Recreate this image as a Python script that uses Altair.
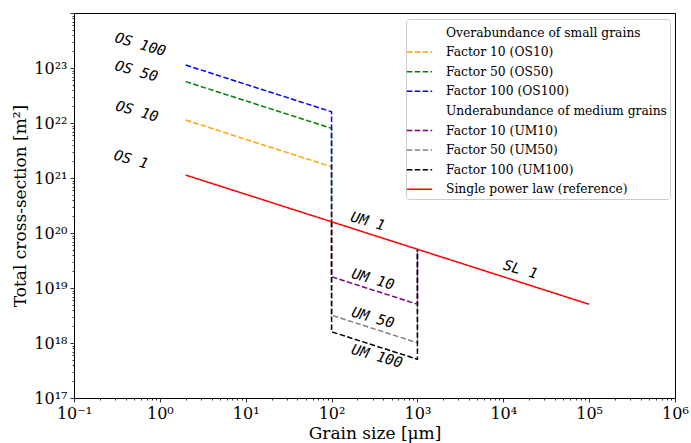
import altair as alt
import pandas as pd

# Single power law (reference) at its break points: grain size [um] -> cross-section [m^2]
ref_size = [2, 100, 1000, 100000]
ref_sigma = [1.13e21, 1.6e20, 5.06e19, 5.06e18]

# Overabundance of small grains (2-100 um), then drop back to the reference
os_size = [2, 100, 100]
os10 = [1.13e22, 1.6e21, 1.6e20]
os50 = [5.65e22, 8.0e21, 1.6e20]
os100 = [1.13e23, 1.6e22, 1.6e20]

# Underabundance of medium grains (100-1000 um)
um_size = [100, 100, 1000, 1000]
um10 = [1.6e20, 1.6e19, 5.06e18, 5.06e19]
um50 = [1.6e20, 3.2e18, 1.01e18, 5.06e19]
um100 = [1.6e20, 1.6e18, 5.06e17, 5.06e19]

# In-plot annotations
label_text = ["OS 100", "OS 50", "OS 10", "OS 1", "UM 1", "UM 10", "UM 50", "UM 100", "SL 1"]
label_x = [0.59, 0.53, 0.54, 0.46, 263, 302, 302, 336, 15800]
label_y = [2.6e23, 8.5e22, 1.58e22, 2.1e21, 1.58e20, 1.4e19, 2.8e18, 5.6e17, 2.1e19]

# Legend entries (two group headers carry no line)
series_names = [
    "Overabundance of small grains",
    "Factor 10 (OS10)",
    "Factor 50 (OS50)",
    "Factor 100 (OS100)",
    "Underabundance of medium grains",
    "Factor 10 (UM10)",
    "Factor 50 (UM50)",
    "Factor 100 (UM100)",
    "Single power law (reference)",
]
series_colors = ["rgba(0,0,0,0)", "orange", "green", "blue", "rgba(0,0,0,0)",
                 "purple", "gray", "black", "red"]
dash = [5.5, 2.4]
solid = [1, 0]
series_dashes = [solid, dash, dash, dash, solid, dash, dash, dash, solid]

# Axis ticks and labels
x_decades = [-1, 0, 1, 2, 3, 4, 5, 6]
x_tick_labels = ["10⁻¹", "10⁰", "10¹", "10²", "10³", "10⁴", "10⁵", "10⁶"]
y_decades = [17, 18, 19, 20, 21, 22, 23, 24]
y_tick_labels = ["10¹⁷", "10¹⁸", "10¹⁹", "10²⁰", "10²¹", "10²²", "10²³", ""]


def tick_values(decades):
    vals = []
    for d in decades[:-1]:
        for m in range(1, 10):
            vals.append(float(m * 10.0 ** d))
    vals.append(float(10.0 ** decades[-1]))
    return vals


def build(name, xs, ys):
    return pd.DataFrame({"series": name, "size": xs, "sigma": ys, "order": range(len(xs))})


scen = pd.concat([
    build(series_names[1], os_size, os10),
    build(series_names[2], os_size, os50),
    build(series_names[3], os_size, os100),
    build(series_names[5], um_size, um10),
    build(series_names[6], um_size, um50),
    build(series_names[7], um_size, um100),
], ignore_index=True)
ref = build(series_names[8], ref_size, ref_sigma)
labels = pd.DataFrame({"text": label_text, "size": label_x, "sigma": label_y})

LOG10 = "(log(datum.value)/LN10)"
is_decade = f"abs({LOG10} - round({LOG10})) < 0.001"


def label_expr(labels_list, first):
    arr = "[" + ",".join(f"'{s}'" for s in labels_list) + "]"
    return f"{is_decade} ? {arr}[round({LOG10}) - ({first})] : ''"


tick_size = {"condition": {"test": is_decade, "value": 4}, "value": 2}

x_enc = alt.X(
    "size:Q",
    scale=alt.Scale(type="log", domain=[0.1, 1e6], nice=False),
    axis=alt.Axis(
        title="Grain size [μm]",
        values=tick_values(x_decades),
        labelExpr=label_expr(x_tick_labels, x_decades[0]),
        labelOverlap=False,
        labelFlush=False,
        tickSize=tick_size,
        grid=False,
    ),
)
y_enc = alt.Y(
    "sigma:Q",
    scale=alt.Scale(type="log", domain=[1e17, 1e24], nice=False),
    axis=alt.Axis(
        title="Total cross-section [m²]",
        values=tick_values(y_decades),
        labelExpr=label_expr(y_tick_labels, y_decades[0]),
        labelOverlap=False,
        labelFlush=False,
        tickSize=tick_size,
        grid=False,
    ),
)

legend_style = dict(
    title=None,
    orient="none",
    legendX=332,
    legendY=6,
    labelFont="DejaVu Serif",
    labelFontSize=12.3,
    labelColor="black",
    rowPadding=2.6,
)

color_enc = alt.Color(
    "series:N",
    scale=alt.Scale(domain=series_names, range=series_colors),
    legend=alt.Legend(**legend_style),
)
dash_enc = alt.StrokeDash(
    "series:N",
    scale=alt.Scale(domain=series_names, range=series_dashes),
    legend=alt.Legend(**legend_style),
)

scenario_lines = alt.Chart(scen).mark_line(strokeWidth=1.5).encode(
    x=x_enc, y=y_enc, color=color_enc, strokeDash=dash_enc, detail="series:N", order="order:Q"
)
reference_line = alt.Chart(ref).mark_line(strokeWidth=1.5).encode(
    x=x_enc, y=y_enc, color=color_enc, strokeDash=dash_enc, order="order:Q"
)
annotations = alt.Chart(labels).mark_text(
    font="DejaVu Sans Mono", fontStyle="italic", fontSize=14.5, angle=16,
    align="center", baseline="middle", color="black",
).encode(x=x_enc, y=y_enc, text="text:N")

chart = alt.layer(scenario_lines, reference_line, annotations).properties(
    width=601,
    height=385,
    autosize=alt.AutoSizeParams(type="none"),
    padding={"left": 74, "top": 13, "right": 16, "bottom": 45},
).configure_view(
    stroke="black", strokeWidth=1
).configure_axis(
    labelFont="DejaVu Serif",
    labelFontSize=16,
    labelColor="black",
    titleFont="DejaVu Serif",
    titleFontSize=17,
    titleFontWeight="normal",
    titleColor="black",
    domainColor="black",
    tickColor="black",
    tickWidth=0.8,
    labelPadding=3,
).configure_axisX(
    titlePadding=4,
).configure_axisY(
    titlePadding=4,
).configure_legend(
    symbolType="M-1.3,0H1.3",
    symbolSize=380,
    symbolStrokeWidth=1.5,
    symbolFillColor="transparent",
    labelFont="DejaVu Serif",
    labelFontSize=12.3,
    labelColor="black",
    labelOffset=16,
    fillColor="white",
    strokeColor="#cccccc",
    cornerRadius=3,
    padding=3,
    rowPadding=2.6,
    labelLimit=400,
)

chart.save("out.html", embed_options={"renderer": "svg", "actions": False})
